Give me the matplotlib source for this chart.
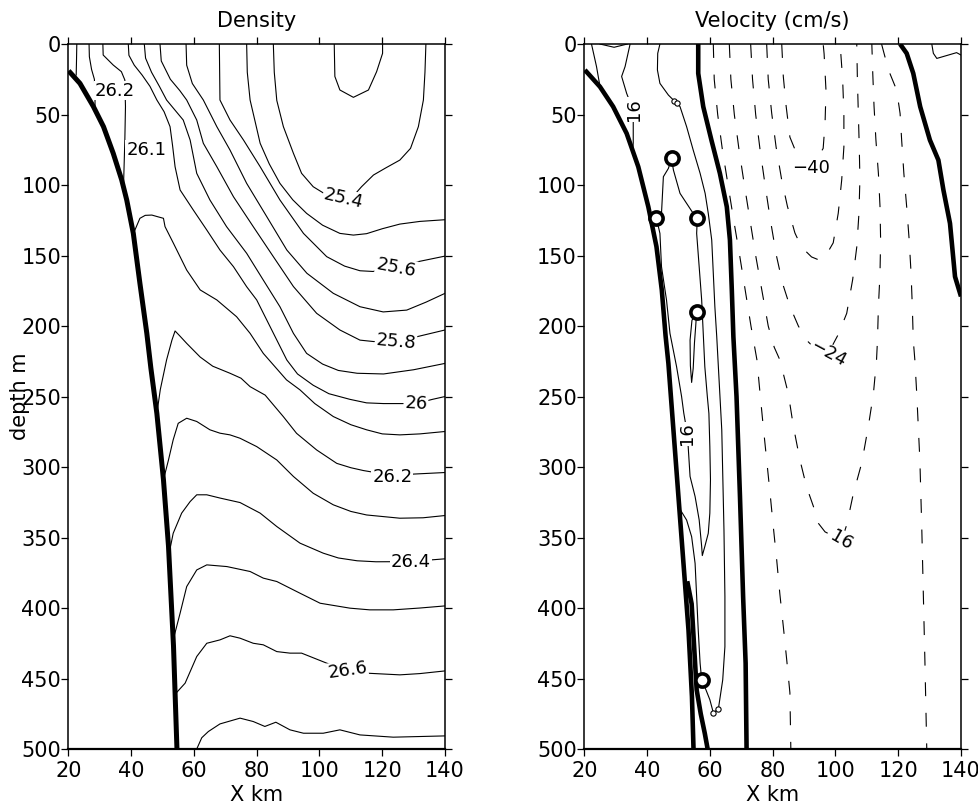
import matplotlib.pyplot as plt

plt.rcParams['font.family'] = ['DejaVu Sans']
plt.rcParams['lines.scale_dashes'] = False

# ---- Density panel: contour lines (x km, depth m) ----
dens_bottom = [(20.1, 19), (23.7, 27.9), (28.0, 44.4), (31.2, 58.6), (34.3, 77.5), (37.0, 96.4),
               (38.6, 110.6), (40.7, 134.3), (42.8, 169.7), (45.0, 205.2), (46.3, 230), (48.2, 262),
               (50.3, 309), (51.9, 356), (53.5, 427), (54.6, 500)]

d25_3 = [(104.7, 0), (104.9, 23), (106.5, 32.6), (110.8, 37.8), (115.6, 32.6), (118.2, 19.6),
         (120.1, 6.6), (120.1, 0)]
d25_4 = [(85.3, 0), (85.6, 20), (86.4, 40), (88.5, 58.6), (91.7, 77.5), (94.3, 91.7), (98.0, 101.2),
         (101.5, 106), (104.5, 108.5), (107.6, 110), (110.5, 108.5), (113.4, 101.2), (117.2, 92.9),
         (121.0, 88), (125.6, 82.3), (129.0, 74), (131.5, 58.6), (133.1, 39.7), (133.6, 20), (133.9, 0)]
d25_5 = [(76.8, 0), (77.0, 20), (77.9, 39.7), (79.5, 55), (81.1, 70.4), (84.0, 85), (87.4, 98.8),
         (91.5, 110.5), (95.9, 120.1), (101.0, 128.5), (106.5, 134.3), (110.8, 135.5), (115.0, 134.5),
         (120.0, 131), (125.6, 127.7), (132.0, 125.8), (140.0, 124.6)]
d25_6 = [(68.1, 0), (68.2, 20), (68.3, 39.7), (71.5, 53.9), (75.8, 68.1), (81.1, 87), (87.4, 110.6),
         (94.9, 134.3), (102.3, 150.8), (108.0, 157.5), (112.9, 160.8), (117.0, 161.3), (124.5, 158.5),
         (131.5, 154.3), (140.0, 150.4)]
d25_7 = [(57.5, 0), (57.7, 15), (59.5, 28), (63.0, 39.7), (67.3, 58.6), (71.5, 75.2), (76.8, 98.8),
         (83.2, 122.4), (89.6, 146.1), (96.0, 162.6), (104.4, 176.8), (112.9, 186.3), (120.3, 190),
         (127.8, 188.7), (134.0, 183), (140.0, 176.8)]
d25_8 = [(49.2, 0), (49.6, 12), (52.5, 25), (55.5, 33), (57.7, 39.7), (60.9, 53.9), (63.0, 70.4),
         (67.3, 87), (72.6, 108.3), (78.9, 129.5), (85.3, 150.8), (91.7, 172), (99.1, 191),
         (106.5, 202.8), (112.9, 210), (117.2, 211), (124.3, 211), (131.0, 207.6), (140.0, 202.8)]
d25_9 = [(44.2, 0), (44.6, 10), (46.5, 20), (49.0, 30), (51.3, 39.7), (56.6, 53.9), (58.8, 68.1),
         (60.9, 91.7), (65.1, 110.6), (70.4, 129.5), (76.8, 148.4), (82.1, 167.4), (87.4, 186.3),
         (91.7, 205.2), (95.9, 219.4), (101.0, 227), (106.0, 231.5), (112.0, 233.5), (120.4, 234),
         (130.0, 231), (140.0, 226.5)]
d26_0 = [(39.1, 0), (39.3, 8), (41.0, 15), (43.5, 22), (46.0, 30), (48.2, 39.7), (50.5, 48),
         (52.4, 58.6), (53.2, 72), (54.0, 87), (55.6, 103.5), (59.8, 117.7), (64.1, 131.9),
         (68.3, 146.1), (72.6, 157.9), (76.8, 172.1), (80.0, 181.5), (83.2, 195.7), (86.4, 209.9),
         (89.6, 224.1), (93.0, 234), (98.0, 242), (103.0, 248), (109.7, 252), (115.0, 254.5),
         (120.4, 255), (130.7, 255), (136.0, 252), (140.0, 250)]
d26_1a = [(31.0, 0), (31.1, 7.8), (34.3, 14.9), (36.9, 19.6), (38.0, 25.5), (38.2, 44.4),
          (38.0, 68), (37.6, 99)]
d26_1b = [(41.0, 133), (42.8, 123.6), (44.5, 121.5), (46.6, 121.3), (48.5, 122.5), (50.3, 123.6),
          (50.8, 129.5), (53.5, 141.4), (57.7, 160.3), (62.0, 174.4), (67.3, 181.5), (73.6, 193.4),
          (77.9, 205.2), (82.1, 219.4), (89.5, 238.2), (93.8, 245.3), (98.5, 255), (104.4, 264.2),
          (110.0, 270), (115.0, 273.6), (120.0, 276.5), (125.6, 277.2), (132.0, 276.5), (140.0, 274.8)]
d26_2a = [(26.6, 0), (26.7, 9), (27.4, 18), (28.3, 25), (28.5, 35), (28.5, 45)]
d26_2b = [(48.2, 262), (49.3, 245), (51.3, 224), (53.0, 210), (54.0, 203.5), (55.5, 207),
          (57.7, 212.3), (62.0, 222), (66.0, 228.5), (71.5, 233.5), (75.0, 237), (77.9, 243),
          (82.7, 249), (88.5, 264.3), (92.7, 276.1), (99.1, 287.9), (105.5, 297.4), (110.0, 300.5),
          (114.0, 302.5), (118.0, 304), (123.2, 306.8), (130.0, 305), (140.0, 303.9)]
d26_3a = [(22.7, 0), (22.6, 12), (22.5, 22)]
d26_3b = [(50.3, 309), (51.9, 295), (53.4, 280.7), (55.0, 269), (57.7, 265.4), (60.9, 267.7),
          (65.1, 273.6), (68.3, 276), (71.5, 277.2), (74.7, 279.6), (80.0, 285.5), (86.4, 295),
          (91.7, 306.7), (98.0, 318.6), (104.4, 326.8), (110.0, 331.5), (115.0, 334), (125.6, 336.3),
          (133.0, 336), (140.0, 334.4)]
d26_4 = [(51.9, 363.5), (53.4, 347), (56.1, 332.7), (58.8, 324.5), (60.9, 319.7), (64.1, 319.7),
         (68.3, 322), (74.7, 325.2), (81.1, 332.7), (86.4, 342.2), (93.8, 354), (101.2, 361.1),
         (106.0, 364.5), (112.0, 366.5), (118.0, 367.2), (129.1, 367.1), (136.0, 365.8), (140.0, 365.1)]
d26_5 = [(53.4, 422.6), (55.6, 403.7), (57.7, 384.8), (60.9, 373), (64.1, 369.4), (70.5, 370.6),
         (77.9, 374.1), (82.1, 378.8), (86.4, 381.2), (93.8, 389.5), (100.2, 396.6), (109.7, 400.1),
         (116.0, 401.3), (123.5, 401.3), (132.0, 400), (140.0, 398.5)]
d26_6 = [(54.3, 460.4), (57.2, 453.3), (60.9, 434.4), (64.1, 425), (68.3, 422.6), (71.5, 419.7),
         (74.7, 421.4), (78.9, 425), (82.1, 426.1), (86.4, 430.9), (90.6, 432), (94.3, 432),
         (102.3, 439.1), (108.9, 444.4), (115.0, 446.2), (125.6, 447.4), (132.0, 446.5), (140.0, 444.6)]
d26_7 = [(60.9, 500), (62.5, 492), (64.6, 487.6), (68.3, 482.2), (74.7, 478.1), (78.9, 480.5),
         (82.6, 484), (86.1, 481), (90.6, 486.4), (94.9, 488.8), (101.2, 488.8), (106.5, 486.4),
         (112.9, 490), (123.5, 491.6), (140.0, 490.7)]

dens_lines = [d25_3, d25_4, d25_5, d25_6, d25_7, d25_8, d25_9, d26_0, d26_1a, d26_1b,
              d26_2a, d26_2b, d26_3a, d26_3b, d26_4, d26_5, d26_6, d26_7]

# label text, x, depth, angle
dens_labels = [("26.2", 34.7, 33, 0), ("26.1", 44.8, 75, 0), ("25.4", 107.6, 110, -13),
               ("25.6", 124.5, 158.5, -11), ("25.8", 124.3, 211, -5), ("26", 130.7, 255, -3),
               ("26.2", 123.2, 306.8, 0), ("26.4", 129.1, 367.1, 0), ("26.6", 108.9, 444.4, 8)]

# ---- Velocity panel ----
vel_bottom = [(20.2, 18.4), (25.0, 30.3), (29.2, 44.4), (33.5, 63.4), (37.2, 87), (40.4, 115.4),
              (43.0, 143.7), (44.7, 174.5), (45.9, 207), (46.8, 226.5), (48.4, 273.7), (50.0, 321),
              (51.6, 368.3), (53.2, 415.6), (54.3, 462.8), (54.8, 500)]
v0_mid = [(56.3, 0), (56.3, 20.8), (57.9, 44.4), (60.5, 68.1), (63.2, 91.7), (65.4, 115.4),
          (66.4, 139), (67.0, 174.5), (67.5, 207.6), (68.5, 250.1), (69.6, 321), (70.6, 392),
          (71.4, 439.2), (71.7, 500)]
v0_right = [(120.6, 0), (122.7, 6.6), (124.8, 20.8), (127.0, 44.4), (130.1, 68.1), (132.8, 82.3),
            (134.4, 103.5), (136.5, 127.2), (138.1, 165), (140.0, 179)]
v0_deep = [(52.8, 381), (54.2, 397), (54.7, 416), (55.3, 439), (55.8, 458), (57.1, 475),
           (58.4, 489), (59.3, 500)]

v_top1 = [(22.3, 0), (23.9, 16), (25.0, 30), (26.8, 37)]
v_top2 = [(25.0, 0), (29.5, 2.3), (33.7, 0)]
v_top3 = [(130.7, 0), (131.2, 6.6), (132.3, 10.2), (136.0, 7.8), (138.6, 6.1), (140.0, 7.8)]
v16_a = [(34.6, 0), (33.0, 16), (31.9, 23), (33.5, 35), (35.6, 47), (35.6, 57), (35.6, 70), (35.4, 77)]
v16_loop = [(47.8, 81), (48.4, 89.4), (50.5, 105.9), (52.6, 113), (54.7, 120.1), (56.0, 123.6),
            (55.8, 134.3), (56.6, 157.9), (57.4, 181.6), (57.9, 205.2), (58.4, 228.8), (59.2, 250),
            (59.7, 262), (60.0, 285.5), (60.2, 309), (60.0, 332.7), (59.5, 347), (58.4, 356.4),
            (57.6, 362.8), (57.4, 356.4), (56.6, 337.5), (55.3, 320.9), (53.7, 306.7), (53.1, 285.5),
            (52.8, 276), (51.7, 261.8), (51.0, 250), (49.4, 228.8), (47.3, 205.2), (46.2, 181.6),
            (44.6, 157.9), (44.1, 134.3), (43.0, 123.6), (44.6, 120.1), (45.2, 94.1), (46.8, 88.2),
            (47.8, 81)]
v16_narrow = [(55.8, 189.8), (54.3, 196), (53.7, 210), (53.8, 228), (54.2, 240), (54.7, 230),
              (55.1, 212), (55.5, 200), (55.8, 189.8)]
v8_long = [(44.1, 0), (43.4, 6.6), (43.3, 18.4), (44.1, 27.9), (46.8, 36.2), (48.7, 40.4),
           (49.6, 42.1), (50.5, 44.4), (52.6, 58.6), (54.7, 75.2), (56.9, 91.7), (58.5, 105.9),
           (59.5, 120.1), (60.6, 139), (61.1, 162.6), (61.6, 186.3), (62.2, 207.6), (63.8, 273.7),
           (64.5, 344.6), (64.8, 391.9), (64.8, 427.4), (64.1, 451), (62.7, 471.8), (61.1, 474.2),
           (60.0, 465), (58.4, 456), (57.4, 451), (56.9, 439.2), (56.3, 415.6), (55.8, 391.9),
           (55.3, 368.3), (54.2, 349.4), (52.6, 337.6), (50.5, 330)]

# negative (dashed) contours
vm8_left = [(61.1, 0), (61.4, 25), (62.5, 50), (64.0, 75), (65.8, 100), (67.6, 125), (69.5, 150),
            (71.3, 175), (73.1, 200), (75.0, 224), (76.0, 248), (77.0, 271), (78.1, 295),
            (79.2, 319), (80.2, 342), (81.3, 366), (82.3, 390), (83.4, 413), (84.5, 437),
            (85.5, 460), (85.8, 500)]
vm8_right = [(114.7, 0), (116.9, 18.4), (119.5, 32.6), (120.6, 49.2), (121.1, 68.1), (121.8, 91.7),
             (122.7, 115.4), (123.5, 139), (124.1, 162.6), (124.5, 186.3), (124.8, 210), (125.3, 224),
             (125.9, 247.7), (126.4, 271.4), (126.9, 295), (127.5, 342.3), (128.0, 389.6),
             (128.5, 436.9), (129.1, 500)]
vm16 = [(66.2, 0), (66.7, 25), (67.8, 50), (69.3, 75), (71.0, 100), (72.8, 125), (74.6, 150),
        (76.6, 175), (78.6, 200), (80.5, 215), (82.3, 224), (85.0, 248), (86.6, 271), (88.7, 295),
        (90.8, 314), (93.0, 328), (94.6, 340), (96.7, 346), (102.0, 352), (103.6, 341),
        (105.7, 319), (108.4, 297), (110.5, 271), (112.1, 248), (113.1, 224), (113.4, 210),
        (113.7, 186), (114.2, 163), (114.4, 139), (114.2, 115), (113.7, 92), (112.9, 68),
        (112.3, 44), (111.9, 21), (111.6, 0)]
vm24 = [(73.0, 0), (73.6, 25), (74.6, 50), (76.0, 75), (77.6, 100), (79.3, 125), (81.2, 150),
        (83.2, 170), (85.5, 186), (88.2, 200), (90.8, 210), (93.5, 216), (97.7, 219.5),
        (100.9, 206), (103.6, 191), (105.5, 167), (106.8, 144), (107.5, 120), (107.8, 96),
        (107.6, 73), (107.3, 49), (107.0, 25), (106.8, 0)]
vm32 = [(78.1, 0), (78.6, 25), (79.7, 49), (81.1, 73), (82.9, 96.5), (84.7, 115), (87.1, 134),
        (89.2, 144), (92.4, 151), (94.6, 153), (96.7, 151), (99.3, 141), (100.9, 120), (102.0, 96.5),
        (102.7, 73), (102.7, 49), (102.3, 25), (101.5, 0)]
vm40 = [(82.9, 0), (83.4, 23), (84.3, 44), (85.5, 66), (87.7, 78), (92.4, 88), (96.1, 74),
        (96.7, 56), (97.0, 33), (96.4, 7), (96.1, 0)]

vel_solid = [v_top1, v_top2, v_top3, v16_a, v16_loop, v16_narrow, v8_long]
vel_dashed = [vm8_left, vm8_right, vm16, vm24, vm32, vm40]
vel_thick = [vel_bottom, v0_mid, v0_right, v0_deep]

vel_labels = [("16", 35.8, 46.5, 90), ("16", 52.8, 276.5, 90), ("\u221240", 92.4, 88, 0),
              ("\u221224", 97.7, 219.5, -28), ("16", 102.0, 352, -30)]
big_o_x = [47.8, 43.0, 56.0, 55.8, 57.4]
big_o_z = [81, 123.6, 123.6, 189.8, 451]
small_o_x = [48.7, 49.6, 61.1, 62.7]
small_o_z = [40.4, 42.1, 474.2, 471.8]


def draw(ax, pts, **kw):
    xs = [p[0] for p in pts]
    zs = [p[1] for p in pts]
    ax.plot(xs, zs, **kw)


def label(ax, txt, x, z, ang):
    ax.text(x, z, txt, fontsize=13, ha='center', va='center', rotation=ang,
            rotation_mode='anchor', zorder=5,
            bbox=dict(boxstyle='square,pad=0.05', fc='white', ec='none'))


def frame(ax, title):
    ax.set_xlim(20, 140)
    ax.set_ylim(500, 0)
    ax.set_xticks(range(20, 141, 20))
    ax.set_yticks(range(0, 501, 50))
    ax.tick_params(direction='out', top=True, right=True, length=4.8, width=0.9, labelsize=15)
    ax.tick_params(axis='y', pad=0.5)
    ax.tick_params(axis='x', pad=4)
    for s in ax.spines.values():
        s.set_linewidth(1.1)
    ax.spines['bottom'].set_linewidth(1.6)
    ax.set_title(title, fontsize=15, pad=12)
    ax.set_xlabel('X km', fontsize=15, labelpad=3)


fig = plt.figure(figsize=(9.79, 8.08), dpi=100)
ax1 = fig.add_axes([0.0698, 0.0730, 0.3848, 0.8725])
ax2 = fig.add_axes([0.5968, 0.0730, 0.3848, 0.8725])

# Density
for line in dens_lines:
    draw(ax1, line, color='black', lw=0.8)
draw(ax1, dens_bottom, color='black', lw=3.6, solid_capstyle='butt')
for t, x, z, a in dens_labels:
    label(ax1, t, x, z, a)
frame(ax1, 'Density')
ax1.set_ylabel('depth m', fontsize=15)
ax1.yaxis.set_label_coords(-0.102, 0.5)

# Velocity
for line in vel_solid:
    draw(ax2, line, color='black', lw=0.8)
for line in vel_dashed:
    draw(ax2, line, color='black', lw=0.8, ls=(0, (10, 12)))
for line in vel_thick:
    draw(ax2, line, color='black', lw=3.3, solid_capstyle='butt')
for t, x, z, a in vel_labels:
    label(ax2, t, x, z, a)
ax2.plot(big_o_x, big_o_z, 'o', ms=9.5, mew=2.6, mfc='white', mec='black', zorder=6)
ax2.plot(small_o_x, small_o_z, 'o', ms=3.8, mew=0.8, mfc='white', mec='black', zorder=6)
frame(ax2, 'Velocity (cm/s)')

fig.savefig('out.png', dpi=100)
